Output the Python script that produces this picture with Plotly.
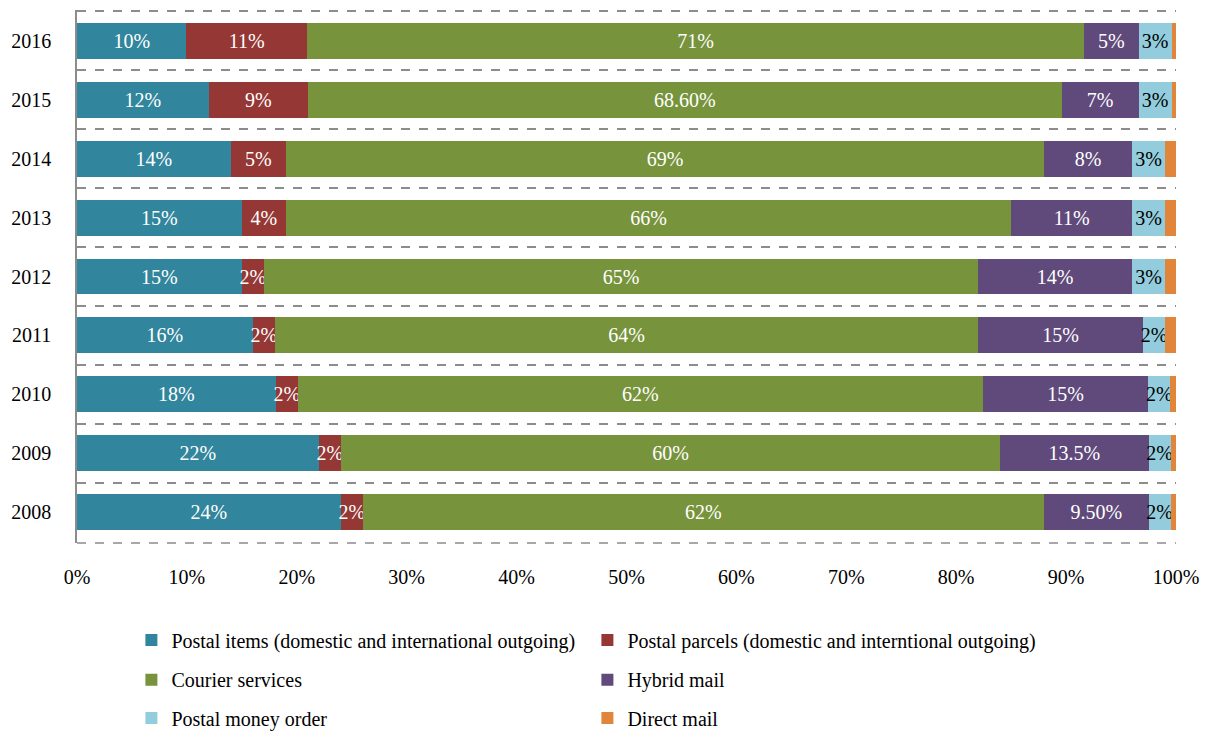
import plotly.graph_objects as go

years = ["2016", "2015", "2014", "2013", "2012", "2011", "2010", "2009", "2008"]

series_names = [
    "Postal items (domestic and international outgoing)",
    "Postal parcels (domestic and interntional outgoing)",
    "Courier services",
    "Hybrid mail",
    "Postal money order",
    "Direct mail",
]

postal_items = [10, 12, 14, 15, 15, 16, 18, 22, 24]
postal_parcels = [11, 9, 5, 4, 2, 2, 2, 2, 2]
courier = [71, 68.6, 69, 66, 65, 64, 62, 60, 62]
hybrid = [5, 7, 8, 11, 14, 15, 15, 13.5, 9.5]
money_order = [3, 3, 3, 3, 3, 2, 2, 2, 2]
direct_mail = [0.4, 0.4, 1, 1, 1, 1, 0.5, 0.5, 0.5]

postal_items_lbl = ["10%", "12%", "14%", "15%", "15%", "16%", "18%", "22%", "24%"]
postal_parcels_lbl = ["11%", "9%", "5%", "4%", "2%", "2%", "2%", "2%", "2%"]
courier_lbl = ["71%", "68.60%", "69%", "66%", "65%", "64%", "62%", "60%", "62%"]
hybrid_lbl = ["5%", "7%", "8%", "11%", "14%", "15%", "15%", "13.5%", "9.50%"]
money_order_lbl = ["3%", "3%", "3%", "3%", "3%", "2%", "2%", "2%", "2%"]
direct_mail_lbl = [""] * 9

x_tickvals = [0, 10, 20, 30, 40, 50, 60, 70, 80, 90, 100]
x_ticktext = ["0%", "10%", "20%", "30%", "40%", "50%", "60%", "70%", "80%", "90%", "100%"]

colors = ["#31859C", "#953735", "#77933C", "#604A7B", "#93CDDD", "#E0853A"]
text_colors = ["white", "white", "white", "white", "black", "black"]
legend_ids = ["legend", "legend", "legend2", "legend2", "legend3", "legend3"]

values = [postal_items, postal_parcels, courier, hybrid, money_order, direct_mail]
labels = [postal_items_lbl, postal_parcels_lbl, courier_lbl, hybrid_lbl, money_order_lbl, direct_mail_lbl]

FONT = "Liberation Serif, Times New Roman, serif"
GRID = "#8C8C8C"

fig = go.Figure()
for name, vals, lbls, col, tcol, lg in zip(series_names, values, labels, colors, text_colors, legend_ids):
    fig.add_trace(go.Bar(
        y=years, x=vals, name=name, orientation="h",
        marker=dict(color=col, line=dict(width=0)),
        text=lbls, textposition="inside", insidetextanchor="middle",
        textangle=0, textfont=dict(color=tcol, size=20, family=FONT),
        hoverinfo="name+x", legend=lg,
    ))

legend_common = dict(
    orientation="h", x=0.0495, xanchor="left", yanchor="middle", yref="container",
    entrywidth=411, entrywidthmode="pixels",
    font=dict(size=20, family=FONT, color="black"), traceorder="normal",
    itemwidth=30, bgcolor="rgba(0,0,0,0)",
)

fig.update_layout(
    barmode="stack", barnorm="percent", bargap=0.39,
    width=1200, height=723,
    margin=dict(l=69, r=32, t=2, b=188, autoexpand=False),
    paper_bgcolor="white", plot_bgcolor="white",
    font=dict(family=FONT, size=20, color="black"),
    uniformtext=dict(minsize=20, mode="show"),
    showlegend=True,
    legend=dict(y=0.126, **legend_common),
    legend2=dict(y=0.071, **legend_common),
    legend3=dict(y=0.018, **legend_common),
)
# bottom frame line of the plot area (dashed, like the category gridlines)
fig.add_shape(type="line", xref="paper", yref="paper", x0=0, x1=1, y0=0, y1=0,
              line=dict(color=GRID, width=1.5, dash="dash"), layer="below")
fig.update_yaxes(
    type="category", range=[8.52, -0.52], tickson="boundaries",
    showgrid=True, gridcolor=GRID, griddash="dash", gridwidth=1.5,
    showline=True, linecolor=GRID, linewidth=1.5,
    ticks="", ticklabelstandoff=20, tickfont=dict(size=20, family=FONT),
    zeroline=False, automargin=False,
)
fig.update_xaxes(
    range=[0, 100], tickvals=x_tickvals, ticktext=x_ticktext,
    showgrid=False, zeroline=False, showline=False, ticks="",
    ticklabelstandoff=20, tickfont=dict(size=20, family=FONT),
    automargin=False,
)

fig.write_html("out.html")
